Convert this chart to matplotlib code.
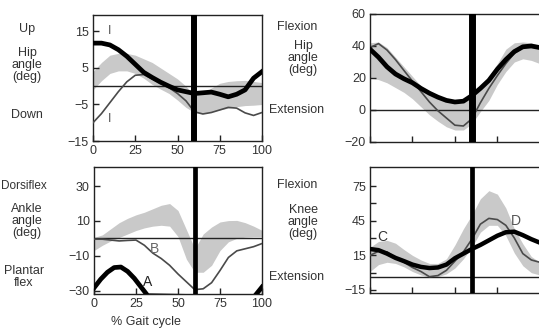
import numpy as np
import matplotlib.pyplot as plt

plt.rcParams['font.family'] = ['Liberation Sans', 'DejaVu Sans']

# % gait cycle grid used for all read-off curves
pct = [0, 5, 10, 15, 20, 25, 30, 35, 40, 45, 50, 55, 60, 65, 70, 75, 80, 85, 90, 95, 100]
toe_off = 60

# top left: hip, up/down
hip_fr_thick = [11.8, 11.8, 11.3, 10, 8.2, 6, 3.8, 2.4, 1.1, 0, -1, -1.5, -2, -1.8, -1.6, -2.2, -2.9, -2.2, -1.0, 2.2, 4.0]
hip_fr_thin = [-10, -7.5, -4.5, -1.5, 1.2, 3, 3.2, 2, 0.8, -0.4, -2, -4, -7, -7.6, -7.2, -6.5, -5.8, -6, -7.3, -8.0, -7.2]
hip_fr_hi = [4, 6.5, 8.5, 9, 9, 8.5, 7.5, 6.5, 5, 3.5, 2, 0, -2.4, -2, -0.5, 0.8, 1.3, 1.5, 1.6, 1.3, 1]
hip_fr_lo = [-1, 1.5, 3.5, 4.2, 4.2, 3.5, 2.2, 0.5, -0.8, -2, -3.8, -5.8, -7.2, -7.5, -7, -6.5, -6, -5.6, -5.3, -5.2, -5]

# top right: hip flexion/extension
hip_sg_thick = [38, 33, 27, 22.5, 19.5, 17, 13.5, 10.5, 8, 6, 5, 5.5, 9, 13.5, 18.5, 25.5, 31.5, 36.5, 39.5, 40, 39]
hip_sg_thin = [39, 41.5, 37.5, 31.5, 24.7, 18, 11.5, 5, -0.5, -5, -9.5, -10, -5.5, 4.5, 13.5, 21.5, 29, 35.5, 39, 39.5, 38.5]
hip_sg_hi = [42, 42.5, 39, 33, 27, 21, 15, 10.5, 7.5, 5.5, 4, 4.5, 8, 14, 21, 29, 38, 42, 42.5, 42, 40]
hip_sg_lo = [20, 19, 17, 14, 11, 7, 2, -3, -7, -10.5, -12.5, -12.5, -8.5, -1, 6, 16, 24, 30, 32, 31, 29]

# bottom left: ankle
pct_a = [0, 4, 8, 12, 16, 20, 24, 28, 32, 95, 100]
ankle_a = [-28.5, -23.5, -19.5, -16.8, -16.5, -19, -23, -28, -33, -34, -28]
ankle_b = [-0.5, -0.5, -1, -1.5, -1.2, -1, -4, -8.5, -11.6, -15.5, -20.5, -25, -29.5, -29, -25.5, -18.5, -11, -7.2, -6, -4.8, -3]
ankle_hi = [0.5, 2, 5.5, 9, 11.5, 13.5, 15, 17, 19, 20, 16, 5, -6, 2.5, 6.5, 9.4, 10.2, 10.3, 9, 7, 4.6]
ankle_lo = [-7, -4, -1.5, 0.5, 2.5, 4.5, 6, 7, 7.5, 7, 1, -12, -19.5, -19.5, -15.5, -7, -2, 0, 0.7, 1, 1]

# bottom right: knee
knee_thick = [20.5, 19.5, 16.5, 12.8, 10, 7, 5, 4, 4.5, 7, 12.5, 16.5, 20.5, 24, 28, 32, 35, 35.5, 32.5, 29, 26]
knee_thin = [15, 18.5, 18, 13, 9, 4.5, 1, -3.5, -2.5, 2, 10, 18, 29, 42, 47, 46, 41, 30, 16.5, 11, 9]
knee_hi = [22, 27, 28, 25.5, 20, 15, 11, 8, 8, 12, 24, 38, 50, 64, 71, 68, 56, 38, 25, 14, 9]
knee_lo = [1, 7, 9, 8, 5, 1, -2, -4, -3.5, -1, 4, 12, 22, 35, 41, 41, 32, 17, 6, 0, -2]

W, H = 539, 329
fig = plt.figure(figsize=(W / 100, H / 100), dpi=100)


def px_axes(x0, y0, x1, y1):
    return fig.add_axes([x0 / W, 1 - y1 / H, (x1 - x0) / W, (y1 - y0) / H])


def px_text(x, y, s, **kw):
    kw.setdefault('fontsize', 9)
    kw.setdefault('color', '#333333')
    kw.setdefault('ha', 'center')
    fig.text(x / W, 1 - y / H, s, va='center', **kw)


band_c = '#c9c9c9'
thin_c = '#4a4a4a'


def setup(ax, ylim, yticks, ylabels, xlabels, xlim=(0, 100)):
    ax.set_xlim(*xlim)
    ax.set_ylim(*ylim)
    ax.set_xticks([0, 25, 50, 75, 100])
    if xlabels:
        ax.set_xticklabels(['0', '25', '50', '75', '100'])
    else:
        ax.set_xticklabels([])
    ax.set_yticks(yticks)
    ax.set_yticklabels(ylabels)
    ax.tick_params(direction='in', length=4, width=1, labelsize=9, colors='#222222',
                   labelcolor='#333333', pad=3)
    for sp in ax.spines.values():
        sp.set_linewidth(1.0)
        sp.set_color('#222222')


# top left
ax = px_axes(93, 15, 262, 141)
ax.fill_between(pct, hip_fr_lo, hip_fr_hi, color=band_c, lw=0, zorder=1)
ax.axhline(0, color='#222222', lw=1.0, zorder=2)
ax.plot(pct, hip_fr_thin, color=thin_c, lw=1.2, zorder=3)
ax.plot(pct, hip_fr_thick, color='black', lw=3.4, zorder=4)
ax.axvline(toe_off, color='black', lw=4.3, zorder=5)
ax.text(10, 15, 'I', color='#555555', fontsize=9, ha='center', va='center')
ax.text(10, -9, 'I', color='#555555', fontsize=9, ha='center', va='center')
setup(ax, (-15, 19.5), [15, 5, -5, -15], ['15', '5', '\u22125', '\u221215'], True)

# top right
ax = px_axes(370, 14, 541.5, 142)
ax.fill_between(pct, hip_sg_lo, hip_sg_hi, color=band_c, lw=0, zorder=1)
ax.axhline(0, color='#222222', lw=1.0, zorder=2)
ax.plot(pct, hip_sg_thin, color=thin_c, lw=1.2, zorder=3)
ax.plot(pct, hip_sg_thick, color='black', lw=3.4, zorder=4)
ax.axvline(toe_off, color='black', lw=5, zorder=5)
setup(ax, (-20, 60), [60, 40, 20, 0, -20], ['60', '40', '20', '0', '\u221220'], False, xlim=(0, 101))

# bottom left
ax = px_axes(94, 167, 262, 294)
ax.fill_between(pct, ankle_lo, ankle_hi, color=band_c, lw=0, zorder=1)
ax.axhline(0, color='#222222', lw=1.0, zorder=2)
ax.plot(pct, ankle_b, color=thin_c, lw=1.2, zorder=3)
ax.plot(pct_a, ankle_a, color='black', lw=3.4, zorder=4)
ax.axvline(toe_off, color='black', lw=3.4, zorder=5)
ax.text(32, -25, 'A', color='#222222', fontsize=10, ha='center', va='center')
ax.text(36, -6, 'B', color='#666666', fontsize=10, ha='center', va='center')
setup(ax, (-32, 41), [30, 10, -10, -30], ['30', '10', '\u221210', '\u221230'], True)

# bottom right
ax = px_axes(370, 167, 541.5, 293)
ax.fill_between(pct, knee_lo, knee_hi, color=band_c, lw=0, zorder=1)
ax.axhline(-4, color='#222222', lw=1.0, zorder=2)
ax.plot(pct, knee_thin, color=thin_c, lw=1.2, zorder=3)
ax.plot(pct, knee_thick, color='black', lw=3.2, zorder=4)
ax.axvline(toe_off, color='black', lw=3.4, zorder=5)
ax.text(7, 31, 'C', color='#333333', fontsize=10, ha='center', va='center')
ax.text(86, 45, 'D', color='#555555', fontsize=10, ha='center', va='center')
setup(ax, (-17.6, 91.5), [-15, 0, 15, 30, 45, 60, 75],
      ['\u221215', '', '15', '', '45', '', '75'], False, xlim=(0, 101))

# side labels
px_text(27, 29, 'Up')
px_text(27, 65, 'Hip\nangle\n(deg)', linespacing=0.95)
px_text(27, 115, 'Down')
px_text(297, 27, 'Flexion')
px_text(303, 58, 'Hip\nangle\n(deg)', linespacing=0.95)
px_text(297, 110, 'Extension')
px_text(1, 186, 'Dorsiflex', ha='left', fontsize=8.5)
px_text(27, 221, 'Ankle\nangle\n(deg)', linespacing=0.95)
px_text(24, 277, 'Plantar\nflex', linespacing=0.95)
px_text(297, 185, 'Flexion')
px_text(303, 222, 'Knee\nangle\n(deg)', linespacing=0.95)
px_text(297, 277, 'Extension')
px_text(146, 322, '% Gait cycle')

fig.savefig('out.png', dpi=100)
